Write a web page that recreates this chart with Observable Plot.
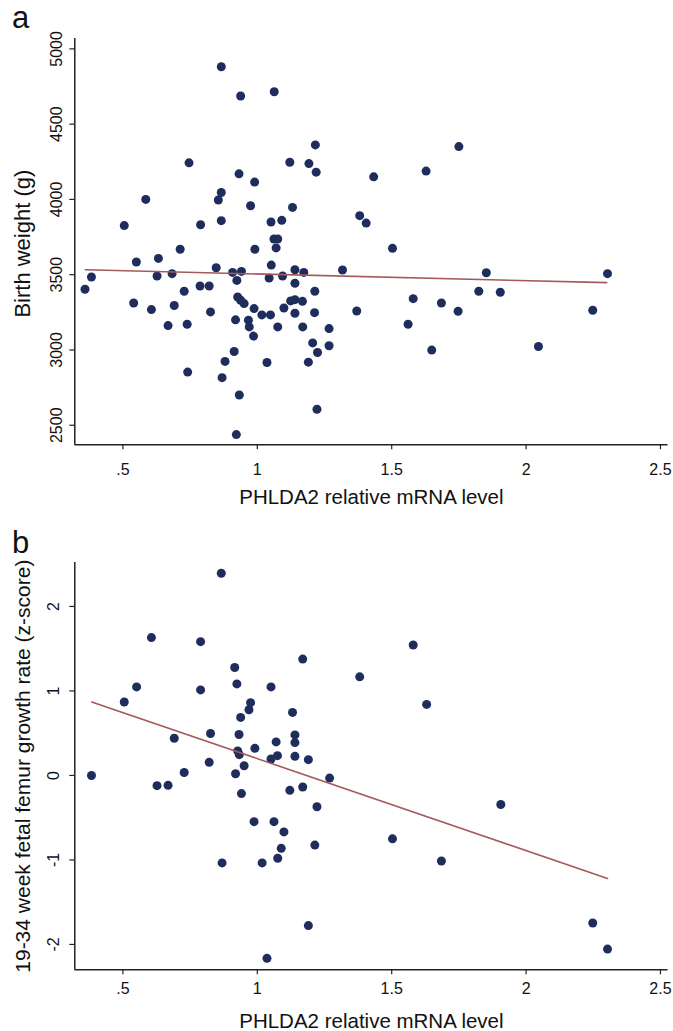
<!DOCTYPE html>
<html><head><meta charset="utf-8">
<script src="https://cdn.jsdelivr.net/npm/d3@7"></script>
<script src="https://cdn.jsdelivr.net/npm/@observablehq/plot@0.6"></script>
<style>
body{margin:0;background:#fff;}
#wrap{position:relative;width:673px;height:1031px;font-family:"Liberation Sans",Arial,sans-serif;overflow:hidden;}
.panel{position:absolute;left:0;}
.letter{position:absolute;left:12px;font-size:31px;line-height:1;color:#111;}
</style></head><body>
<div id="wrap">
  <div class="panel" id="pa" style="top:0"></div>
  <div class="panel" id="pb" style="top:510px"></div>
  <div class="letter" style="top:2.4px">a</div>
  <div class="letter" style="top:526.7px">b</div>
</div>
<script>
// ---- shared x axis ----
const xTicks = [0.5, 1, 1.5, 2, 2.5];
const xTickLabels = [".5", "1", "1.5", "2", "2.5"];
const xDomain = [0.321, 2.528];
const xLabel = "PHLDA2 relative mRNA level";

// ---- panel a: birth weight ----
const aX = [0.866,0.938,1.063,1.216,1.750,0.746,1.121,1.192,1.219,0.932,1.628,1.433,0.990,0.866,0.585,0.855,0.975,1.131,1.381,1.405,0.505,0.789,0.866,1.051,1.091,1.062,1.076,0.713,0.991,1.070,1.503,
  0.550,0.632,0.847,0.383,0.359,0.627,0.683,0.908,0.941,0.924,1.052,1.044,1.094,1.140,1.173,1.317,1.852,2.303,1.140,0.787,0.821,0.728,1.214,1.824,1.904,0.540,0.606,0.691,0.826,0.927,0.938,0.951,0.988,1.017,1.049,1.099,1.124,1.140,1.168,1.140,1.213,1.580,1.685,1.747,1.370,2.248,0.668,0.739,0.919,0.967,0.970,1.076,1.169,1.267,1.561,0.986,1.206,1.267,1.224,0.914,1.649,2.046,0.880,1.036,1.190,0.741,0.869,0.933,1.222,0.922];
const aY = [4881,4687,4715,4362,4351,4243,4247,4238,4181,4170,4188,4150,4115,4046,4000,3996,3958,3947,3892,3843,3826,3832,3859,3850,3861,3737,3737,3669,3669,3678,3675,
  3584,3608,3546,3485,3403,3491,3507,3515,3522,3462,3564,3478,3491,3533,3515,3531,3513,3507,3443,3425,3425,3390,3390,3390,3383,3312,3268,3295,3253,3352,3330,3308,3275,3233,3233,3279,3326,3334,3323,3244,3248,3341,3312,3257,3259,3264,3162,3171,3200,3198,3153,3153,3153,3142,3171,3092,3047,3028,2983,2990,2999,3023,2924,2917,2919,2853,2816,2701,2606,2438];
const aFitX = [0.36, 2.30];
const aFitY = [3533, 3447];
const aYTicks = [2500, 3000, 3500, 4000, 4500, 5000];
const aYDomain = [2370, 5069];
const aYLabel = "Birth weight (g)";

// ---- panel b: femur growth rate ----
const bX = [0.866,0.606,0.789,1.580,1.169,0.916,1.381,0.924,0.551,1.051,0.789,0.505,0.975,1.630,0.969,1.131,0.938,0.826,0.932,1.140,0.691,1.070,1.140,0.991,0.927,0.933,1.075,1.051,1.140,1.190,0.821,0.951,0.383,0.728,0.919,0.627,0.668,0.941,1.121,1.169,1.269,1.222,1.906,0.988,1.062,1.099,1.503,1.214,1.089,1.076,0.869,1.018,1.685,1.190,2.248,2.303,1.036];
const bY = [2.393,1.631,1.583,1.544,1.377,1.278,1.167,1.083,1.048,1.048,1.012,0.869,0.861,0.841,0.778,0.746,0.687,0.496,0.484,0.480,0.440,0.397,0.389,0.321,0.290,0.246,0.234,0.194,0.226,0.187,0.155,0.115,0.0,0.035,0.02,-0.121,-0.117,-0.215,-0.176,-0.137,-0.031,-0.371,-0.344,-0.547,-0.547,-0.668,-0.750,-0.824,-0.863,-0.980,-1.035,-1.035,-1.012,-1.777,-1.746,-2.055,-2.164];
const bFitX = [0.384, 2.303];
const bFitY = [0.869, -1.219];
const bYTicks = [-2, -1, 0, 1, 2];
const bYDomain = [-2.30, 2.52];
const bYLabel = "19-34 week fetal femur growth rate (z-score)";

const FONT = "'Liberation Sans', Arial, sans-serif";
const dotColor = "#1f2d5c";
const fitColor = "#a4595b";
const axisColor = "#222";

function panel({xs, ys, fx, fy, yTicks, yDomain, yLabel, height, mt, mb, xTickPad, yTickPad, yLabelDy, yLabelSize, xLabelDy}) {
  const pts = xs.map((x, i) => ({x, y: ys[i]}));
  const fit = fx.map((x, i) => ({x, y: fy[i]}));
  return Plot.plot({
    width: 673, height,
    marginLeft: 74.3, marginRight: 5.5, marginTop: mt, marginBottom: mb,
    style: {fontFamily: FONT, background: "#fff", overflow: "visible", color: "#111"},
    x: {domain: xDomain},
    y: {domain: yDomain},
    marks: [
      Plot.axisX({ticks: xTicks, tickFormat: d => xTickLabels[xTicks.indexOf(d)], tickSize: 5, tickPadding: xTickPad, fontSize: 16, label: null, stroke: axisColor, strokeWidth: 1.2}),
      Plot.axisY({ticks: yTicks, tickFormat: d => String(d), tickSize: 5, tickPadding: yTickPad, tickRotate: -90, fontSize: 16, label: null, stroke: axisColor, strokeWidth: 1.2}),
      Plot.ruleX([xDomain[0]], {stroke: axisColor, strokeWidth: 1.5}),
      Plot.ruleY([yDomain[0]], {stroke: axisColor, strokeWidth: 1.5}),
      Plot.dot(pts, {x: "x", y: "y", r: 4.5, fill: dotColor, stroke: "none"}),
      Plot.line(fit, {x: "x", y: "y", stroke: fitColor, strokeWidth: 1.6}),
      Plot.text([yLabel], {text: d => d, frameAnchor: "left", rotate: -90, dx: -60, dy: yLabelDy, lineAnchor: "top", textAnchor: "middle", fontSize: yLabelSize, fill: "#111"}),
      Plot.text([xLabel], {text: d => d, frameAnchor: "bottom", dy: xLabelDy, lineAnchor: "bottom", textAnchor: "middle", fontSize: 20.5, fill: "#111"})
    ]
  });
}

document.getElementById("pa").appendChild(panel({
  xs: aX, ys: aY, fx: aFitX, fy: aFitY, yTicks: aYTicks, yDomain: aYDomain, yLabel: aYLabel,
  height: 510, mt: 38, mb: 65.7, xTickPad: 13.4, yTickPad: 8, yLabelDy: 2, yLabelSize: 22, xLabelDy: 58.7
}));
document.getElementById("pb").appendChild(panel({
  xs: bX, ys: bY, fx: bFitX, fy: bFitY, yTicks: bYTicks, yDomain: bYDomain, yLabel: bYLabel,
  height: 521, mt: 52, mb: 61.7, xTickPad: 7.4, yTickPad: 11, yLabelDy: 0, yLabelSize: 21, xLabelDy: 57.7
}));
</script>
</body></html>
